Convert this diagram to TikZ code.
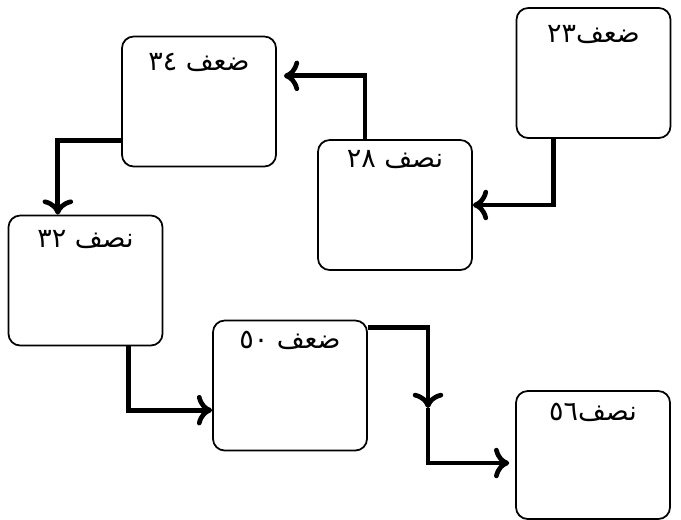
\documentclass[tikz,border=0pt]{standalone}
\usepackage{fontspec}
\usetikzlibrary{arrows.meta}
\newfontfamily\arabicfont[Script=Arabic]{DejaVu Sans}
\TeXXeTstate=1

\begin{document}
\begin{tikzpicture}[x=0.03cm,y=-0.03cm,
        box/.style={draw,line width=1.5pt,rounded corners=10pt,minimum width=4.62cm,minimum height=3.9cm},
        lbl/.style={font=\arabicfont\fontsize{23}{26}\selectfont,inner sep=0pt},
        flow/.style={line width=4pt,-{Computer Modern Rightarrow[length=13pt,width=26pt]}}]
                \useasboundingbox (0,0) rectangle (681,519);
                \node [box] (d23) at (593.5,73) {};
                \node [box] (d34) at (199,101.5) {};
                \node [box] (n28) at (395,205) {};
                \node [box] (n32) at (85.5,280.5) {};
                \node [box] (d50) at (290,385.5) {};
                \node [box,minimum height=3.84cm] (n56) at (593,455) {};
                \node [lbl,below=15pt] (t23) at (d23.north) {\beginR ضعف\beginL ٢٣\endL\endR};
                \node [lbl,below=15pt] (t34) at (d34.north) {\beginR ضعف \beginL ٣٤\endL\endR};
                \node [lbl,below=9pt] (t28) at (n28.north) {\beginR نصف \beginL ٢٨\endL\endR};
                \node [lbl,below=13pt] (t32) at (n32.north) {\beginR نصف \beginL ٣٢\endL\endR};
                \node [lbl,below=10pt] (t50) at (d50.north) {\beginR ضعف \beginL ٥٠\endL\endR};
                \node [lbl,below=11pt] (t56) at (n56.north) {\beginR نصف\beginL ٥٦\endL\endR};
                \coordinate (k50) at (428,408);
                \draw [flow] ([xshift=-1.2cm]d23.south) |- (n28.east);
                \draw [flow] ([xshift=-0.9cm]n28.north) |- ([xshift=6pt,yshift=0.77cm]d34.east);
                \draw [flow] ([yshift=-1.16cm]d34.west) -| ([xshift=-0.83cm]n32.north);
                \draw [flow] ([xshift=1.28cm]n32.south) |- ([yshift=-0.74cm]d50.west);
                \draw [flow] ([yshift=1.75cm]d50.east) -| (k50);
                \draw [flow] (k50) |- ([xshift=-5pt,yshift=-0.24cm]n56.west);
            \end{tikzpicture}
\end{document}
